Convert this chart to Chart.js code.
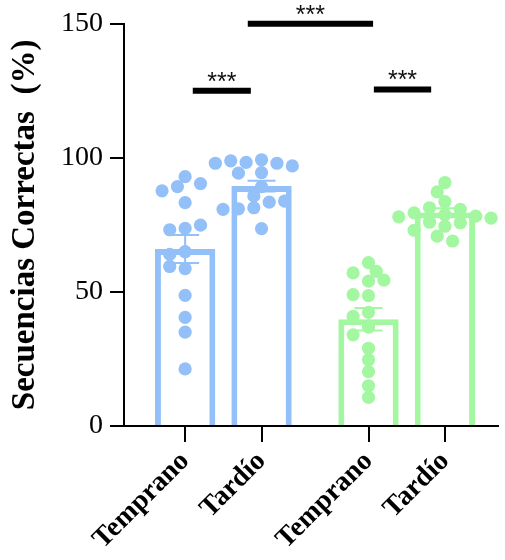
<!DOCTYPE html>
<html>
<head>
<meta charset="utf-8">
<script src="https://cdn.jsdelivr.net/npm/chart.js@4"></script>
<style>
  html, body { margin: 0; padding: 0; background: #fff; }
  #myChart { display: block; }
</style>
</head>
<body>
<canvas id="myChart" width="505" height="560"></canvas>
<script>
// categories and where each bar sits on the x axis
var groups = ['Temprano', 'Tardío', 'Temprano', 'Tardío'];
var group_pos = [1, 2, 3.4, 4.4];
var bar_colors = ['#93c0f8', '#93c0f8', '#a3f7a0', '#a3f7a0'];

// bar heights (mean) and error (SEM)
var bar_mean = [66, 89.5, 39.8, 79.6];
var bar_sem = [5.2, 2.0, 4.2, 1.6];

// individual values per group
var pts_g1 = [93, 89.3, 90.4, 87.7, 83.3, 73.7, 73.2, 74.9, 65, 64, 58.7, 59.5, 48.7, 40.5, 35, 21.3];
var pts_g2 = [99.3, 98.3, 98, 98.9, 97, 98, 94.5, 94.3, 89.3, 85.8, 83.5, 81.4, 81, 83.9, 80.8, 73.6];
var pts_g3 = [60.9, 54, 57.1, 57.7, 54.4, 48.6, 49, 42.4, 40.9, 36.9, 34, 29, 24.7, 20.3, 15, 10.7];
var pts_g4 = [90.8, 87.3, 83.7, 81.4, 80.8, 79.5, 78.8, 78.3, 78, 77.5, 76, 75.8, 74.5, 73, 70.8, 69];
var all_pts = [pts_g1, pts_g2, pts_g3, pts_g4];

// significance bars
var sig_from = [1.1, 1.82, 3.47];
var sig_to = [1.86, 3.46, 4.22];
var sig_level = [125, 150, 125.5];
var sig_text = ['***', '***', '***'];

var y_ticks = [0, 50, 100, 150];

var datasets = [];
datasets.push({
    type: 'bar',
    data: group_pos.map(function (x, i) { return { x: x, y: bar_mean[i] }; }),
    backgroundColor: '#ffffff',
    borderColor: bar_colors,
    borderWidth: 6,
    borderSkipped: 'start',
    barPercentage: 0.79,
    categoryPercentage: 1,
    order: 3
});
for (let g = 0; g < all_pts.length; g++) {
    datasets.push({
        type: 'scatter',
        data: all_pts[g].map(function (v) { return { x: group_pos[g], y: v }; }),
        backgroundColor: bar_colors[g],
        borderWidth: 0,
        pointRadius: 6.6,
        pointHoverRadius: 6.6,
        order: 0
    });
}
for (let s = 0; s < sig_from.length; s++) {
    datasets.push({
        type: 'line',
        data: [{ x: sig_from[s], y: sig_level[s] }, { x: sig_to[s], y: sig_level[s] }],
        borderColor: '#000',
        borderWidth: 6,
        borderCapStyle: 'butt',
        pointRadius: 0,
        clip: false,
        order: 1
    });
}

// error bars and asterisks, placed through the chart scales
var extras_plugin = {
    id: 'extras',
    afterDatasetsDraw: function (chart) {
        var c = chart.ctx, xs = chart.scales.x, ys = chart.scales.y;
        c.save();
        for (let i = 0; i < group_pos.length; i++) {
            let cx = xs.getPixelForValue(group_pos[i]);
            let yt = ys.getPixelForValue(bar_mean[i] + bar_sem[i]);
            let yb = ys.getPixelForValue(bar_mean[i] - bar_sem[i]);
            c.strokeStyle = bar_colors[i];
            c.lineWidth = 2;
            c.beginPath();
            c.moveTo(cx, yt); c.lineTo(cx, yb);
            c.moveTo(cx - 14, yt); c.lineTo(cx + 14, yt);
            c.moveTo(cx - 14, yb); c.lineTo(cx + 14, yb);
            c.stroke();
        }
        c.fillStyle = '#111';
        c.font = '25px "Liberation Sans"';
        c.textAlign = 'center';
        c.textBaseline = 'alphabetic';
        for (let s = 0; s < sig_from.length; s++) {
            let mx = xs.getPixelForValue((sig_from[s] + sig_to[s]) / 2);
            let my = ys.getPixelForValue(sig_level[s]);
            c.fillText(sig_text[s], mx, my - 1);
        }
        c.restore();
    }
};

var ctx = document.getElementById('myChart');
var chart = new Chart(ctx, {
    type: 'bar',
    data: { datasets: datasets },
    options: {
        responsive: false,
        devicePixelRatio: 1,
        animation: false,
        layout: { padding: { top: 11, right: 0, bottom: 0, left: 0 } },
        plugins: { legend: { display: false }, tooltip: { enabled: false } },
        scales: {
            x: {
                type: 'linear',
                min: 0.2,
                max: 5.1,
                offset: false,
                afterBuildTicks: function (s) { s.ticks = group_pos.map(function (v) { return { value: v }; }); },
                afterFit: function (s) { s.height = 134; },
                grid: { offset: false, drawOnChartArea: false, color: '#000', lineWidth: 2, tickLength: 16 },
                border: { color: '#000', width: 2 },
                ticks: {
                    autoSkip: false,
                    minRotation: 45,
                    maxRotation: 45,
                    padding: 3,
                    color: '#000',
                    font: { family: 'Liberation Serif', size: 28, weight: 'bold' },
                    callback: function (v) { return groups[group_pos.indexOf(v)]; }
                }
            },
            y: {
                min: 0,
                max: 150,
                afterBuildTicks: function (s) { s.ticks = y_ticks.map(function (v) { return { value: v }; }); },
                afterFit: function (s) { s.width = 124; },
                grid: { drawOnChartArea: false, color: '#000', lineWidth: 2, tickLength: 14 },
                border: { color: '#000', width: 2 },
                ticks: {
                    padding: 7,
                    color: '#000',
                    font: { family: 'Liberation Serif', size: 28 }
                },
                title: {
                    display: true,
                    text: 'Secuencias Correctas  (%)',
                    color: '#000',
                    font: { family: 'Liberation Serif', size: 33, weight: 'bold' },
                    padding: { top: 6, bottom: 0 }
                }
            }
        }
    },
    plugins: [extras_plugin]
});

// spread the dots sideways so they do not sit on top of each other
function swarm() {
    var xs = chart.scales.x, ys = chart.scales.y;
    var step = 7.7, min_dist = 11.5;
    for (let g = 0; g < all_pts.length; g++) {
        let cx = xs.getPixelForValue(group_pos[g]);
        let placed = [];
        let ds = chart.data.datasets[1 + g];
        for (let i = 0; i < all_pts[g].length; i++) {
            let py = ys.getPixelForValue(all_pts[g][i]);
            let chosen = 0;
            for (let k = 0; k < 20; k++) {
                let off = (k % 2 === 0 ? 1 : -1) * Math.ceil(k / 2) * step;
                let hit = placed.some(function (p) {
                    let dx = p[0] - (cx + off), dy = p[1] - py;
                    return dx * dx + dy * dy < min_dist * min_dist;
                });
                if (!hit) { chosen = off; break; }
            }
            placed.push([cx + chosen, py]);
            ds.data[i].x = xs.getValueForPixel(cx + chosen);
        }
    }
    chart.update('none');
}
swarm();
</script>
</body>
</html>
